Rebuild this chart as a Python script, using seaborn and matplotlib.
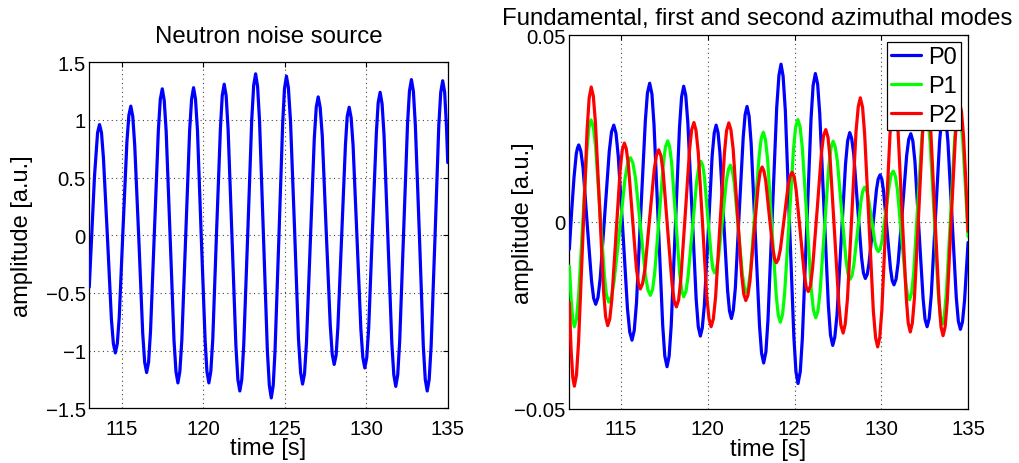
import numpy as np
import pandas as pd
import matplotlib
matplotlib.use("Agg")
import matplotlib.pyplot as plt
import seaborn as sns

# ---------------- data ----------------
left_t = [113.00, 113.16, 113.32, 113.51, 113.63,
          113.75, 113.87, 114.12, 114.36, 114.48, 114.60,
          114.72, 114.84, 115.07, 115.31, 115.43, 115.55,
          115.67, 115.79, 116.04, 116.28, 116.40, 116.52,
          116.64, 116.76, 117.00, 117.24, 117.36, 117.48,
          117.60, 117.72, 117.96, 118.20, 118.32, 118.44,
          118.56, 118.68, 118.92, 119.16, 119.28, 119.40,
          119.52, 119.64, 119.87, 120.11, 120.22, 120.34,
          120.46, 120.58, 120.81, 121.05, 121.16, 121.28,
          121.40, 121.52, 121.76, 122.00, 122.12, 122.24,
          122.36, 122.48, 122.73, 122.97, 123.09, 123.21,
          123.33, 123.45, 123.69, 123.93, 124.05, 124.17,
          124.29, 124.40, 124.64, 124.87, 124.98, 125.10,
          125.22, 125.35, 125.60, 125.84, 125.97, 126.09,
          126.21, 126.33, 126.57, 126.81, 126.93, 127.05,
          127.17, 127.30, 127.54, 127.79, 127.91, 128.03,
          128.15, 128.26, 128.49, 128.72, 128.83, 128.95,
          129.07, 129.19, 129.43, 129.67, 129.79, 129.91,
          130.03, 130.15, 130.38, 130.62, 130.73, 130.85,
          130.97, 131.09, 131.33, 131.57, 131.69, 131.81,
          131.93, 132.05, 132.29, 132.53, 132.65, 132.77,
          132.89, 133.01, 133.26, 133.50, 133.62, 133.74,
          133.86, 133.98, 134.22, 134.45, 134.57, 134.69,
          134.81, 134.92, 135.00]
left_v = [-0.45, 0.04, 0.51, 0.89, 0.96,
          0.89, 0.67, -0.03, -0.73, -0.94, -1.02,
          -0.94, -0.71, 0.05, 0.81, 1.04, 1.12,
          1.03, 0.78, -0.03, -0.85, -1.10, -1.19,
          -1.10, -0.83, 0.04, 0.91, 1.18, 1.27,
          1.17, 0.90, 0.00, -0.91, -1.18, -1.28,
          -1.18, -0.91, 0.00, 0.91, 1.18, 1.28,
          1.18, 0.91, 0.00, -0.91, -1.18, -1.28,
          -1.18, -0.90, 0.02, 0.93, 1.21, 1.31,
          1.21, 0.92, -0.02, -0.96, -1.25, -1.35,
          -1.25, -0.95, 0.03, 1.00, 1.30, 1.40,
          1.29, 0.99, -0.01, -1.00, -1.30, -1.41,
          -1.30, -1.00, -0.01, 0.97, 1.27, 1.38,
          1.28, 0.99, 0.05, -0.90, -1.19, -1.29,
          -1.20, -0.93, -0.05, 0.84, 1.11, 1.20,
          1.11, 0.86, 0.04, -0.78, -1.03, -1.12,
          -1.04, -0.79, -0.01, 0.78, 1.03, 1.11,
          1.02, 0.78, -0.02, -0.82, -1.06, -1.15,
          -1.06, -0.80, 0.05, 0.89, 1.15, 1.24,
          1.14, 0.87, -0.04, -0.94, -1.21, -1.31,
          -1.21, -0.92, 0.02, 0.96, 1.25, 1.35,
          1.25, 0.96, 0.00, -0.96, -1.25, -1.35,
          -1.25, -0.96, -0.01, 0.95, 1.24, 1.34,
          1.24, 0.95, 0.63]

p0_t = [112.02, 112.15, 112.29, 112.42, 112.49, 112.56,
        112.68, 112.81, 113.05, 113.30, 113.42, 113.54,
        113.67, 113.80, 114.06, 114.32, 114.45, 114.58,
        114.71, 114.84, 115.11, 115.37, 115.50, 115.63,
        115.76, 115.89, 116.14, 116.40, 116.52, 116.65,
        116.78, 116.90, 117.15, 117.40, 117.52, 117.65,
        117.77, 117.89, 118.13, 118.37, 118.49, 118.61,
        118.73, 118.85, 119.09, 119.33, 119.45, 119.57,
        119.68, 119.80, 120.03, 120.25, 120.37, 120.48,
        120.59, 120.70, 120.92, 121.14, 121.25, 121.36,
        121.47, 121.59, 121.81, 122.04, 122.15, 122.26,
        122.38, 122.50, 122.74, 122.98, 123.10, 123.22,
        123.35, 123.47, 123.72, 123.97, 124.10, 124.22,
        124.34, 124.47, 124.71, 124.96, 125.08, 125.20,
        125.33, 125.45, 125.70, 125.95, 126.07, 126.20,
        126.33, 126.45, 126.70, 126.95, 127.07, 127.20,
        127.32, 127.45, 127.69, 127.94, 128.06, 128.18,
        128.29, 128.41, 128.63, 128.86, 128.97, 129.08,
        129.19, 129.29, 129.51, 129.72, 129.82, 129.93,
        130.03, 130.13, 130.33, 130.53, 130.63, 130.73,
        130.85, 130.97, 131.22, 131.46, 131.58, 131.70,
        131.82, 131.94, 132.17, 132.41, 132.52, 132.64,
        132.76, 132.88, 133.12, 133.36, 133.48, 133.60,
        133.72, 133.84, 134.08, 134.32, 134.44, 134.56,
        134.68, 134.80, 135.00]
p0_v = [-0.0073, 0.0027, 0.0120, 0.0183, 0.0198, 0.0206,
        0.0190, 0.0144, -0.0007, -0.0158, -0.0204, -0.0220,
        -0.0202, -0.0150, 0.0020, 0.0189, 0.0241, 0.0259,
        0.0237, 0.0175, -0.0029, -0.0232, -0.0294, -0.0316,
        -0.0290, -0.0216, 0.0028, 0.0271, 0.0345, 0.0371,
        0.0342, 0.0260, -0.0008, -0.0276, -0.0358, -0.0387,
        -0.0359, -0.0277, -0.0012, 0.0254, 0.0335, 0.0363,
        0.0338, 0.0265, 0.0029, -0.0207, -0.0280, -0.0305,
        -0.0284, -0.0223, -0.0023, 0.0177, 0.0238, 0.0259,
        0.0239, 0.0184, 0.0000, -0.0183, -0.0238, -0.0258,
        -0.0236, -0.0175, 0.0026, 0.0226, 0.0287, 0.0309,
        0.0283, 0.0209, -0.0034, -0.0277, -0.0351, -0.0377,
        -0.0347, -0.0260, 0.0023, 0.0305, 0.0392, 0.0422,
        0.0390, 0.0297, -0.0005, -0.0307, -0.0400, -0.0432,
        -0.0400, -0.0311, -0.0018, 0.0276, 0.0365, 0.0397,
        0.0369, 0.0291, 0.0034, -0.0224, -0.0302, -0.0330,
        -0.0308, -0.0247, -0.0046, 0.0156, 0.0217, 0.0239,
        0.0224, 0.0182, 0.0044, -0.0094, -0.0136, -0.0151,
        -0.0140, -0.0111, -0.0013, 0.0086, 0.0115, 0.0126,
        0.0115, 0.0083, -0.0021, -0.0125, -0.0157, -0.0168,
        -0.0153, -0.0109, 0.0034, 0.0177, 0.0221, 0.0236,
        0.0216, 0.0161, -0.0022, -0.0205, -0.0260, -0.0280,
        -0.0258, -0.0195, 0.0010, 0.0215, 0.0278, 0.0300,
        0.0278, 0.0214, 0.0007, -0.0201, -0.0265, -0.0287,
        -0.0267, -0.0209, -0.0055]

p1_t = [112.02, 112.12, 112.22, 112.31,
        112.43, 112.55, 112.79, 113.03, 113.15, 113.27,
        113.40, 113.53, 113.78, 114.04, 114.16, 114.29,
        114.45, 114.60, 114.92, 115.23, 115.38, 115.54,
        115.68, 115.83, 116.12, 116.40, 116.55, 116.69,
        116.82, 116.94, 117.19, 117.44, 117.56, 117.69,
        117.80, 117.92, 118.15, 118.38, 118.50, 118.61,
        118.74, 118.86, 119.11, 119.36, 119.48, 119.61,
        119.71, 119.81, 120.00, 120.20, 120.29, 120.39,
        120.50, 120.62, 120.85, 121.07, 121.19, 121.30,
        121.41, 121.53, 121.76, 121.99, 122.11, 122.22,
        122.34, 122.47, 122.71, 122.96, 123.08, 123.20,
        123.32, 123.45, 123.69, 123.94, 124.06, 124.18,
        124.31, 124.43, 124.69, 124.94, 125.06, 125.19,
        125.32, 125.45, 125.71, 125.96, 126.09, 126.22,
        126.35, 126.47, 126.72, 126.97, 127.10, 127.22,
        127.34, 127.47, 127.71, 127.96, 128.08, 128.20,
        128.31, 128.41, 128.62, 128.83, 128.94, 129.04,
        129.14, 129.24, 129.44, 129.63, 129.73, 129.83,
        129.94, 130.05, 130.26, 130.48, 130.58, 130.69,
        130.81, 130.93, 131.16, 131.40, 131.51, 131.63,
        131.75, 131.87, 132.10, 132.34, 132.45, 132.57,
        132.69, 132.81, 133.05, 133.28, 133.40, 133.52,
        133.63, 133.75, 133.99, 134.22, 134.33, 134.45,
        134.57, 134.69, 134.85, 135.00]
p1_v = [-0.0118, -0.0205, -0.0263, -0.0280,
        -0.0259, -0.0199, -0.0004, 0.0192, 0.0252, 0.0273,
        0.0255, 0.0202, 0.0030, -0.0143, -0.0196, -0.0214,
        -0.0199, -0.0158, -0.0021, 0.0116, 0.0157, 0.0172,
        0.0158, 0.0118, -0.0012, -0.0142, -0.0182, -0.0196,
        -0.0180, -0.0136, 0.0011, 0.0157, 0.0201, 0.0217,
        0.0201, 0.0156, 0.0009, -0.0139, -0.0184, -0.0200,
        -0.0186, -0.0147, -0.0019, 0.0109, 0.0148, 0.0162,
        0.0151, 0.0118, 0.0013, -0.0092, -0.0125, -0.0136,
        -0.0125, -0.0094, 0.0008, 0.0110, 0.0141, 0.0152,
        0.0139, 0.0102, -0.0019, -0.0139, -0.0176, -0.0189,
        -0.0173, -0.0126, 0.0026, 0.0177, 0.0224, 0.0240,
        0.0221, 0.0166, -0.0014, -0.0194, -0.0249, -0.0268,
        -0.0247, -0.0189, 0.0003, 0.0195, 0.0253, 0.0274,
        0.0254, 0.0197, 0.0009, -0.0179, -0.0236, -0.0256,
        -0.0238, -0.0187, -0.0020, 0.0147, 0.0198, 0.0216,
        0.0202, 0.0162, 0.0032, -0.0099, -0.0139, -0.0153,
        -0.0144, -0.0117, -0.0030, 0.0057, 0.0084, 0.0093,
        0.0086, 0.0068, 0.0007, -0.0054, -0.0072, -0.0079,
        -0.0071, -0.0048, 0.0029, 0.0105, 0.0128, 0.0136,
        0.0123, 0.0086, -0.0036, -0.0158, -0.0195, -0.0208,
        -0.0189, -0.0134, 0.0046, 0.0226, 0.0281, 0.0300,
        0.0278, 0.0216, 0.0014, -0.0189, -0.0251, -0.0273,
        -0.0251, -0.0189, 0.0014, 0.0216, 0.0278, 0.0300,
        0.0279, 0.0220, 0.0093, -0.0039]

p2_t = [112.02, 112.12, 112.22, 112.31,
        112.43, 112.55, 112.80, 113.04, 113.16, 113.28,
        113.40, 113.52, 113.76, 113.99, 114.11, 114.23,
        114.35, 114.47, 114.71, 114.95, 115.07, 115.19,
        115.30, 115.42, 115.65, 115.88, 116.00, 116.11,
        116.24, 116.38, 116.64, 116.91, 117.04, 117.17,
        117.30, 117.43, 117.68, 117.94, 118.06, 118.19,
        118.32, 118.44, 118.70, 118.95, 119.07, 119.20,
        119.32, 119.45, 119.70, 119.94, 120.07, 120.19,
        120.32, 120.45, 120.70, 120.96, 121.08, 121.21,
        121.33, 121.46, 121.70, 121.95, 122.07, 122.19,
        122.31, 122.43, 122.66, 122.90, 123.01, 123.13,
        123.23, 123.34, 123.54, 123.75, 123.85, 123.95,
        124.06, 124.18, 124.41, 124.63, 124.75, 124.86,
        124.98, 125.09, 125.33, 125.56, 125.67, 125.79,
        125.92, 126.04, 126.30, 126.55, 126.67, 126.80,
        126.93, 127.05, 127.30, 127.55, 127.67, 127.80,
        127.92, 128.05, 128.30, 128.54, 128.67, 128.79,
        128.92, 129.04, 129.29, 129.54, 129.67, 129.79,
        129.91, 130.03, 130.26, 130.50, 130.61, 130.73,
        130.85, 130.97, 131.20, 131.44, 131.55, 131.67,
        131.79, 131.91, 132.15, 132.38, 132.50, 132.62,
        132.74, 132.86, 133.09, 133.33, 133.44, 133.56,
        133.68, 133.80, 134.03, 134.27, 134.38, 134.50,
        134.62, 134.74, 134.87, 135.00]
p2_v = [-0.0216, -0.0342, -0.0417, -0.0439,
        -0.0409, -0.0322, -0.0039, 0.0244, 0.0331, 0.0361,
        0.0337, 0.0268, 0.0042, -0.0184, -0.0253, -0.0277,
        -0.0259, -0.0206, -0.0033, 0.0140, 0.0193, 0.0211,
        0.0196, 0.0154, 0.0016, -0.0122, -0.0164, -0.0179,
        -0.0165, -0.0125, 0.0007, 0.0139, 0.0179, 0.0193,
        0.0177, 0.0132, -0.0017, -0.0166, -0.0211, -0.0227,
        -0.0208, -0.0155, 0.0020, 0.0194, 0.0247, 0.0266,
        0.0245, 0.0186, -0.0007, -0.0200, -0.0259, -0.0280,
        -0.0259, -0.0200, -0.0008, 0.0185, 0.0244, 0.0265,
        0.0247, 0.0196, 0.0028, -0.0141, -0.0192, -0.0210,
        -0.0196, -0.0158, -0.0032, 0.0095, 0.0133, 0.0147,
        0.0137, 0.0110, 0.0019, -0.0072, -0.0099, -0.0109,
        -0.0100, -0.0074, 0.0012, 0.0098, 0.0124, 0.0133,
        0.0121, 0.0086, -0.0027, -0.0139, -0.0174, -0.0186,
        -0.0170, -0.0123, 0.0031, 0.0184, 0.0231, 0.0247,
        0.0226, 0.0168, -0.0025, -0.0218, -0.0276, -0.0297,
        -0.0273, -0.0205, 0.0018, 0.0240, 0.0308, 0.0332,
        0.0307, 0.0235, -0.0001, -0.0237, -0.0309, -0.0334,
        -0.0309, -0.0237, -0.0002, 0.0233, 0.0305, 0.0330,
        0.0306, 0.0239, 0.0018, -0.0203, -0.0270, -0.0294,
        -0.0270, -0.0203, 0.0018, 0.0239, 0.0306, 0.0330,
        0.0306, 0.0237, 0.0013, -0.0211, -0.0280, -0.0304,
        -0.0280, -0.0213, 0.0008, 0.0229, 0.0296, 0.0320,
        0.0296, 0.0229, 0.0112, -0.0025]

series_names = ["P0", "P1", "P2"]
series_colors = ["#0000ff", "#00ff00", "#ff0000"]

x_ticks = [115, 120, 125, 130, 135]
x_tick_labels = ["115", "120", "125", "130", "135"]
left_y_ticks = [-1.5, -1.0, -0.5, 0.0, 0.5, 1.0, 1.5]
left_y_tick_labels = ["\u22121.5", "\u22121", "\u22120.5", "0", "0.5", "1", "1.5"]
right_y_ticks = [-0.05, 0.0, 0.05]
right_y_tick_labels = ["\u22120.05", "0", "0.05"]

# ---------------- style ----------------
sns.set_style("white")
plt.rcParams["font.family"] = ["Liberation Sans", "DejaVu Sans"]
plt.rcParams["text.color"] = "black"
plt.rcParams["axes.labelcolor"] = "black"
plt.rcParams["xtick.color"] = "black"
plt.rcParams["ytick.color"] = "black"

TICK_FS = 14.7
LABEL_FS = 17
TITLE_FS = 17.3
LW = 2.3

fig = plt.figure(figsize=(10.19, 4.64), dpi=100)
ax1 = fig.add_axes([0.0876, 0.1179, 0.3518, 0.7457])
ax2 = fig.add_axes([0.5584, 0.1164, 0.3916, 0.8060])

# left panel
left_df = pd.DataFrame({"time": left_t, "amp": left_v})
sns.lineplot(data=left_df, x="time", y="amp", ax=ax1, color="#0000ff",
             lw=LW, estimator=None, sort=False, zorder=3)

# right panel
right_df = pd.concat([
    pd.DataFrame({"time": p0_t, "amp": p0_v, "mode": series_names[0]}),
    pd.DataFrame({"time": p1_t, "amp": p1_v, "mode": series_names[1]}),
    pd.DataFrame({"time": p2_t, "amp": p2_v, "mode": series_names[2]}),
], ignore_index=True)
sns.lineplot(data=right_df, x="time", y="amp", hue="mode",
             hue_order=series_names, palette=series_colors, ax=ax2,
             lw=LW, estimator=None, sort=False, zorder=3)

def style_axis(ax):
    for s in ax.spines.values():
        s.set_visible(True)
        s.set_color("black")
        s.set_linewidth(0.9)
    ax.tick_params(axis="both", direction="in", length=3.5, width=0.8,
                   top=True, right=True, colors="black", labelsize=TICK_FS)
    ax.tick_params(axis="x", pad=7.5)
    ax.tick_params(axis="y", pad=2.6)
    ax.grid(True, linestyle=(0, (1, 3)), color="#444444", linewidth=0.8)
    ax.set_axisbelow(True)
    ax.set_xticks(x_ticks)
    ax.set_xticklabels(x_tick_labels)
    ax.set_xlabel("time [s]", fontsize=LABEL_FS)
    ax.set_ylabel("amplitude [a.u.]", fontsize=LABEL_FS)

style_axis(ax1)
ax1.set_xlim(113.0, 135.0)
ax1.set_ylim(-1.5, 1.5)
ax1.set_yticks(left_y_ticks)
ax1.set_yticklabels(left_y_tick_labels)
ax1.set_title("Neutron noise source", fontsize=TITLE_FS, pad=14.4)
ax1.yaxis.set_label_coords(-0.157, 0.5)
ax1.xaxis.set_label_coords(0.5, -0.083)

style_axis(ax2)
ax2.set_xlim(112.0, 135.0)
ax2.set_ylim(-0.05, 0.05)
ax2.set_yticks(right_y_ticks)
ax2.set_yticklabels(right_y_tick_labels)
ax2.set_title("Fundamental, first and second azimuthal modes",
              fontsize=TITLE_FS, pad=7.9, x=0.471)
ax2.yaxis.set_label_coords(-0.088, 0.5)
ax2.xaxis.set_label_coords(0.5, -0.077)

leg = ax2.legend(loc="upper right", fontsize=17, frameon=True, fancybox=False,
                 edgecolor="black", framealpha=1, borderaxespad=0.3,
                 handlelength=1.25, handletextpad=0.3, labelspacing=0.29,
                 borderpad=0.18, title=None)
leg.get_frame().set_linewidth(0.9)
leg.set_zorder(10)
for line in leg.get_lines():
    line.set_linewidth(LW)

fig.savefig("out.png", dpi=100)
